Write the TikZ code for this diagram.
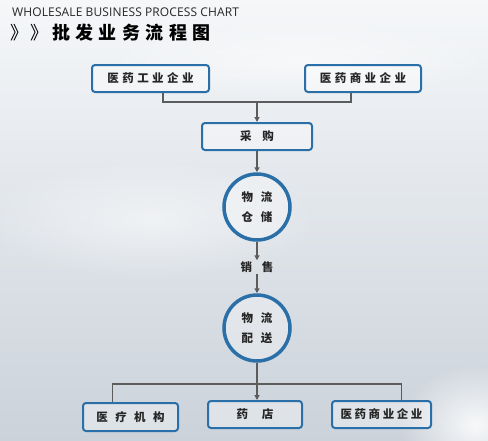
\documentclass[tikz,border=0pt]{standalone}
\usepackage{fontspec}
\setmainfont{Open Sans}
\newfontfamily\cjk{Noto Sans CJK SC}
\usepackage{xcolor}
\definecolor{BoxBlue}{HTML}{2A6FA7}
\definecolor{LineGrey}{HTML}{5C5C5C}
\definecolor{InkGrey}{HTML}{262626}
\definecolor{SkyTop}{HTML}{F5F7F9}
\definecolor{SkyMid}{HTML}{E8ECF0}
\definecolor{SkyLow}{HTML}{CBD2DA}
\usetikzlibrary{arrows.meta,calc,positioning,fadings}
\tikzfading[name=softedge,inner color=transparent!0,outer color=transparent!100]
\newcommand\Tr[2]{{\addfontfeatures{LetterSpace=#1}#2}}
\tikzstyle{box}=[rectangle,draw=BoxBlue,line width=2pt,rounded corners=3pt,
                 fill=white,fill opacity=.35,text opacity=1,text=InkGrey,
                 minimum height=27pt,font=\cjk\bfseries\fontsize{11.5}{13}\selectfont]
\tikzstyle{hub}=[circle,draw=BoxBlue,line width=3.5pt,minimum size=66pt,
                 fill=white,fill opacity=.3,text opacity=1,text=InkGrey,align=center,
                 font=\cjk\bfseries\fontsize{11.5}{20}\selectfont]
\tikzstyle{link}=[draw=LineGrey,line width=1.8pt]
\tikzstyle{arrow}=[link,-{Triangle[length=5pt,width=5pt]}]
\tikzstyle{cloud}=[white,path fading=softedge,opacity=.85]
\begin{document}
\begin{tikzpicture}[x=1pt,y=-1pt]
   \useasboundingbox (0,0) rectangle (488,440);
   \shade[top color=SkyTop,middle color=SkyMid,bottom color=SkyLow] (0,0) rectangle (488,440);
   % clouds
   \fill[cloud] (475,425) ellipse (75pt and 60pt);
   \fill[cloud,opacity=.5] (150,220) ellipse (170pt and 60pt);
   \fill[cloud,opacity=.5] (300,60) ellipse (200pt and 40pt);
   % title
   \node[anchor=base west,inner sep=0pt,text=InkGrey,font=\fontsize{12}{14}\selectfont] (entitle) at (12,16.5) {\Tr{1}{WHOLESALE BUSINESS PROCESS CHART}};
   \node[anchor=west,inner sep=0pt,font=\cjk\fontsize{18}{20}\selectfont] (chev) at (10,33) {》\hspace{2pt}》};
   \node[anchor=west,inner sep=0pt,font=\cjk\bfseries\fontsize{18}{20}\selectfont] (cntitle) at (52,33) {\Tr{30}{批发业务流程图}};
   % suppliers
   \node[box,minimum width=117pt] (ind) at (150.5,78.5) {\Tr{30}{医药工业企业}};
   \node[box,minimum width=116pt] (com) at (363,78.5) {\Tr{30}{医药商业企业}};
   \node[box,minimum width=110pt] (buy) at (257,136.5) {采\hspace{11pt}购};
   % logistics
   \node[hub] (store) at (257,207) {物\hspace{8pt}流\\仓\hspace{8pt}储};
   \node[inner sep=1pt,text=InkGrey,font=\cjk\bfseries\fontsize{11.5}{13}\selectfont] (sale) at (257,267) {销\hspace{10pt}售};
   \node[hub] (dist) at (257,328) {物\hspace{8pt}流\\配\hspace{8pt}送};
   % customers
   \node[box,minimum width=95pt,minimum height=28pt] (hosp) at (130.5,417) {\Tr{65}{医疗机构}};
   \node[box,minimum width=94pt] (shop) at (255,414.5) {药\hspace{14pt}店};
   \node[box,minimum width=99pt] (com2) at (381.5,414.5) {\Tr{22}{医药商业企业}};
   % connectors
   \coordinate (jt) at (257,102);
   \coordinate (jb) at (257,384);
   \draw[link] ([xshift=12.5pt]ind.south) |- (jt) -| ([xshift=-12pt]com.south);
   \draw[arrow] (jt) -- (jt |- buy.north);
   \draw[arrow] (buy) -- (store);
   \draw[arrow] (store) -- (sale);
   \draw[arrow] (sale) -- (dist);
   \draw[link] (dist) -- (jb);
   \draw[link] ([xshift=-18pt]hosp.north) |- (jb) -| ([xshift=20pt]com2.north);
   \draw[arrow] (jb) -- (jb |- shop.north);
\end{tikzpicture}
\end{document}
